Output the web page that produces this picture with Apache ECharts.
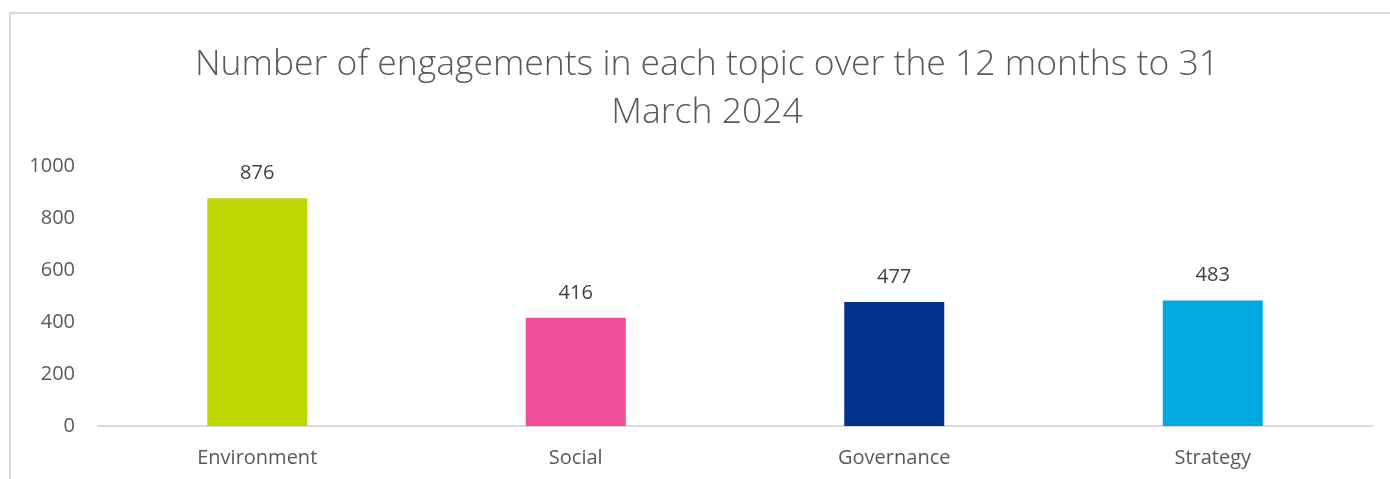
<!DOCTYPE html>
<html>
<head>
<meta charset="utf-8">
<script src="https://cdn.jsdelivr.net/npm/echarts@6/dist/echarts.min.js"></script>
<style>
  html, body { margin: 0; padding: 0; background: #ffffff; }
  #chart { width: 1390px; height: 479px; }
</style>
</head>
<body>
<div id="chart"></div>
<script>
// Engagement counts per topic, 12 months to 31 March 2024
const categories = ['Environment', 'Social', 'Governance', 'Strategy'];
const engagements = [876, 416, 477, 483];
const barColors = ['#BFD700', '#EE4E97', '#00338D', '#00A9DF'];
const yTicks = { min: 0, max: 1000, interval: 200 };
const chartTitle = 'Number of engagements in each topic over the 12 months to 31\nMarch 2024';

const chart = echarts.init(document.getElementById('chart'), null, { renderer: 'canvas' });

chart.setOption({
  backgroundColor: '#ffffff',
  animation: false,
  graphic: [{
    // outer frame of the chart area
    type: 'rect',
    shape: { x: 10, y: 13, width: 1420, height: 520 },
    style: { fill: 'none', stroke: '#d9d9d9', lineWidth: 2 },
    silent: true,
    z: -10
  }, {
    // two-line heading, centred over the plot
    type: 'text',
    x: 707,
    y: 41,
    silent: true,
    style: {
      text: chartTitle,
      align: 'center',
      verticalAlign: 'top',
      fontFamily: '"Open Sans", "Segoe UI", sans-serif',
      fontWeight: 300,
      fontSize: 35.5,
      lineHeight: 48,
      fill: '#595959'
    }
  }],
  grid: { left: 98, right: 18, top: 166, bottom: 53, containLabel: false },
  xAxis: {
    type: 'category',
    data: categories,
    axisLine: { show: true, lineStyle: { color: '#d9d9d9', width: 2 } },
    axisTick: { show: false },
    axisLabel: {
      margin: 22,
      fontFamily: '"Open Sans", sans-serif',
      fontSize: 20,
      color: '#595959'
    }
  },
  yAxis: {
    type: 'value',
    min: yTicks.min,
    max: yTicks.max,
    interval: yTicks.interval,
    axisLine: { show: false },
    axisTick: { show: false },
    splitLine: { show: false },
    axisLabel: {
      margin: 23,
      fontFamily: '"Open Sans", sans-serif',
      fontSize: 20,
      color: '#595959',
      formatter: (v) => String(v)
    }
  },
  series: [{
    type: 'bar',
    data: engagements.map((v, i) => ({ value: v, itemStyle: { color: barColors[i] } })),
    barWidth: 100,
    label: {
      show: true,
      position: 'top',
      distance: 15,
      fontFamily: '"Open Sans", sans-serif',
      fontSize: 20,
      color: '#404040'
    }
  }]
});
</script>
</body>
</html>
